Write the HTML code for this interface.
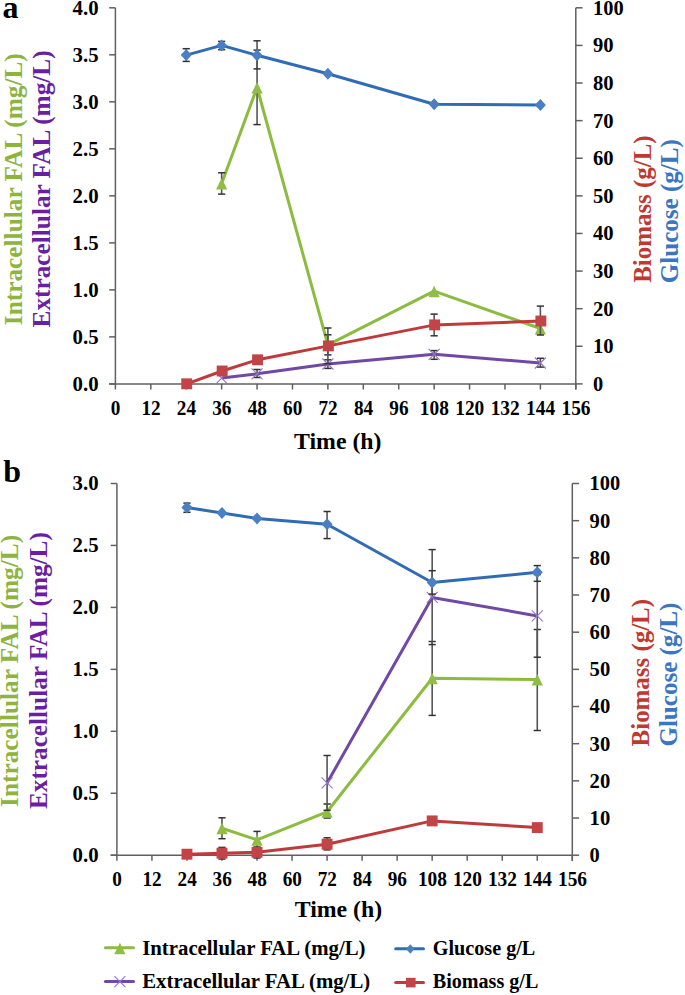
<!DOCTYPE html>
<html><head><meta charset="utf-8"><style>
html,body{margin:0;padding:0;background:#fff;}
body{width:685px;height:995px;overflow:hidden;}
svg{display:block;}
text{font-family:"Liberation Serif",serif;font-weight:bold;}
</style></head><body>
<svg width="685" height="995" viewBox="0 0 685 995">
<line x1="115.4" y1="7.8" x2="115.4" y2="384.4" stroke="#606060" stroke-width="1.5"/>
<line x1="109.2" y1="383.9" x2="575.8" y2="383.9" stroke="#606060" stroke-width="1.5"/>
<line x1="575.8" y1="7.8" x2="575.8" y2="389.4" stroke="#606060" stroke-width="1.5"/>
<line x1="109.2" y1="383.9" x2="115.4" y2="383.9" stroke="#606060" stroke-width="1.5"/>
<text x="98.6" y="390.8" font-size="20" fill="#000" text-anchor="end" textLength="26" lengthAdjust="spacingAndGlyphs">0.0</text>
<line x1="109.2" y1="336.89" x2="115.4" y2="336.89" stroke="#606060" stroke-width="1.5"/>
<text x="98.6" y="343.79" font-size="20" fill="#000" text-anchor="end" textLength="26" lengthAdjust="spacingAndGlyphs">0.5</text>
<line x1="109.2" y1="289.88" x2="115.4" y2="289.88" stroke="#606060" stroke-width="1.5"/>
<text x="98.6" y="296.77" font-size="20" fill="#000" text-anchor="end" textLength="26" lengthAdjust="spacingAndGlyphs">1.0</text>
<line x1="109.2" y1="242.86" x2="115.4" y2="242.86" stroke="#606060" stroke-width="1.5"/>
<text x="98.6" y="249.76" font-size="20" fill="#000" text-anchor="end" textLength="26" lengthAdjust="spacingAndGlyphs">1.5</text>
<line x1="109.2" y1="195.85" x2="115.4" y2="195.85" stroke="#606060" stroke-width="1.5"/>
<text x="98.6" y="202.75" font-size="20" fill="#000" text-anchor="end" textLength="26" lengthAdjust="spacingAndGlyphs">2.0</text>
<line x1="109.2" y1="148.84" x2="115.4" y2="148.84" stroke="#606060" stroke-width="1.5"/>
<text x="98.6" y="155.74" font-size="20" fill="#000" text-anchor="end" textLength="26" lengthAdjust="spacingAndGlyphs">2.5</text>
<line x1="109.2" y1="101.82" x2="115.4" y2="101.82" stroke="#606060" stroke-width="1.5"/>
<text x="98.6" y="108.72" font-size="20" fill="#000" text-anchor="end" textLength="26" lengthAdjust="spacingAndGlyphs">3.0</text>
<line x1="109.2" y1="54.81" x2="115.4" y2="54.81" stroke="#606060" stroke-width="1.5"/>
<text x="98.6" y="61.71" font-size="20" fill="#000" text-anchor="end" textLength="26" lengthAdjust="spacingAndGlyphs">3.5</text>
<line x1="109.2" y1="7.8" x2="115.4" y2="7.8" stroke="#606060" stroke-width="1.5"/>
<text x="98.6" y="14.7" font-size="20" fill="#000" text-anchor="end" textLength="26" lengthAdjust="spacingAndGlyphs">4.0</text>
<line x1="575.8" y1="383.9" x2="582.6" y2="383.9" stroke="#606060" stroke-width="1.5"/>
<text x="593" y="390.8" font-size="20" fill="#000" textLength="10.2" lengthAdjust="spacingAndGlyphs">0</text>
<line x1="575.8" y1="346.29" x2="582.6" y2="346.29" stroke="#606060" stroke-width="1.5"/>
<text x="593" y="353.19" font-size="20" fill="#000" textLength="20.6" lengthAdjust="spacingAndGlyphs">10</text>
<line x1="575.8" y1="308.68" x2="582.6" y2="308.68" stroke="#606060" stroke-width="1.5"/>
<text x="593" y="315.58" font-size="20" fill="#000" textLength="20.6" lengthAdjust="spacingAndGlyphs">20</text>
<line x1="575.8" y1="271.07" x2="582.6" y2="271.07" stroke="#606060" stroke-width="1.5"/>
<text x="593" y="277.97" font-size="20" fill="#000" textLength="20.6" lengthAdjust="spacingAndGlyphs">30</text>
<line x1="575.8" y1="233.46" x2="582.6" y2="233.46" stroke="#606060" stroke-width="1.5"/>
<text x="593" y="240.36" font-size="20" fill="#000" textLength="20.6" lengthAdjust="spacingAndGlyphs">40</text>
<line x1="575.8" y1="195.85" x2="582.6" y2="195.85" stroke="#606060" stroke-width="1.5"/>
<text x="593" y="202.75" font-size="20" fill="#000" textLength="20.6" lengthAdjust="spacingAndGlyphs">50</text>
<line x1="575.8" y1="158.24" x2="582.6" y2="158.24" stroke="#606060" stroke-width="1.5"/>
<text x="593" y="165.14" font-size="20" fill="#000" textLength="20.6" lengthAdjust="spacingAndGlyphs">60</text>
<line x1="575.8" y1="120.63" x2="582.6" y2="120.63" stroke="#606060" stroke-width="1.5"/>
<text x="593" y="127.53" font-size="20" fill="#000" textLength="20.6" lengthAdjust="spacingAndGlyphs">70</text>
<line x1="575.8" y1="83.02" x2="582.6" y2="83.02" stroke="#606060" stroke-width="1.5"/>
<text x="593" y="89.92" font-size="20" fill="#000" textLength="20.6" lengthAdjust="spacingAndGlyphs">80</text>
<line x1="575.8" y1="45.41" x2="582.6" y2="45.41" stroke="#606060" stroke-width="1.5"/>
<text x="593" y="52.31" font-size="20" fill="#000" textLength="20.6" lengthAdjust="spacingAndGlyphs">90</text>
<line x1="575.8" y1="7.8" x2="582.6" y2="7.8" stroke="#606060" stroke-width="1.5"/>
<text x="593" y="14.7" font-size="20" fill="#000" textLength="30.6" lengthAdjust="spacingAndGlyphs">100</text>
<line x1="115.4" y1="383.9" x2="115.4" y2="389.5" stroke="#606060" stroke-width="1.5"/>
<text x="115.6" y="414.7" font-size="20" fill="#000" text-anchor="middle" textLength="9.6" lengthAdjust="spacingAndGlyphs">0</text>
<line x1="150.82" y1="383.9" x2="150.82" y2="389.5" stroke="#606060" stroke-width="1.5"/>
<text x="151.02" y="414.7" font-size="20" fill="#000" text-anchor="middle" textLength="19.2" lengthAdjust="spacingAndGlyphs">12</text>
<line x1="186.23" y1="383.9" x2="186.23" y2="389.5" stroke="#606060" stroke-width="1.5"/>
<text x="186.43" y="414.7" font-size="20" fill="#000" text-anchor="middle" textLength="19.2" lengthAdjust="spacingAndGlyphs">24</text>
<line x1="221.65" y1="383.9" x2="221.65" y2="389.5" stroke="#606060" stroke-width="1.5"/>
<text x="221.85" y="414.7" font-size="20" fill="#000" text-anchor="middle" textLength="19.2" lengthAdjust="spacingAndGlyphs">36</text>
<line x1="257.06" y1="383.9" x2="257.06" y2="389.5" stroke="#606060" stroke-width="1.5"/>
<text x="257.26" y="414.7" font-size="20" fill="#000" text-anchor="middle" textLength="19.2" lengthAdjust="spacingAndGlyphs">48</text>
<line x1="292.48" y1="383.9" x2="292.48" y2="389.5" stroke="#606060" stroke-width="1.5"/>
<text x="292.68" y="414.7" font-size="20" fill="#000" text-anchor="middle" textLength="19.2" lengthAdjust="spacingAndGlyphs">60</text>
<line x1="327.89" y1="383.9" x2="327.89" y2="389.5" stroke="#606060" stroke-width="1.5"/>
<text x="328.09" y="414.7" font-size="20" fill="#000" text-anchor="middle" textLength="19.2" lengthAdjust="spacingAndGlyphs">72</text>
<line x1="363.31" y1="383.9" x2="363.31" y2="389.5" stroke="#606060" stroke-width="1.5"/>
<text x="363.51" y="414.7" font-size="20" fill="#000" text-anchor="middle" textLength="19.2" lengthAdjust="spacingAndGlyphs">84</text>
<line x1="398.72" y1="383.9" x2="398.72" y2="389.5" stroke="#606060" stroke-width="1.5"/>
<text x="398.92" y="414.7" font-size="20" fill="#000" text-anchor="middle" textLength="19.2" lengthAdjust="spacingAndGlyphs">96</text>
<line x1="434.14" y1="383.9" x2="434.14" y2="389.5" stroke="#606060" stroke-width="1.5"/>
<text x="434.34" y="414.7" font-size="20" fill="#000" text-anchor="middle" textLength="29" lengthAdjust="spacingAndGlyphs">108</text>
<line x1="469.55" y1="383.9" x2="469.55" y2="389.5" stroke="#606060" stroke-width="1.5"/>
<text x="469.75" y="414.7" font-size="20" fill="#000" text-anchor="middle" textLength="29" lengthAdjust="spacingAndGlyphs">120</text>
<line x1="504.97" y1="383.9" x2="504.97" y2="389.5" stroke="#606060" stroke-width="1.5"/>
<text x="505.17" y="414.7" font-size="20" fill="#000" text-anchor="middle" textLength="29" lengthAdjust="spacingAndGlyphs">132</text>
<line x1="540.38" y1="383.9" x2="540.38" y2="389.5" stroke="#606060" stroke-width="1.5"/>
<text x="540.58" y="414.7" font-size="20" fill="#000" text-anchor="middle" textLength="29" lengthAdjust="spacingAndGlyphs">144</text>
<line x1="575.8" y1="383.9" x2="575.8" y2="389.5" stroke="#606060" stroke-width="1.5"/>
<text x="576" y="414.7" font-size="20" fill="#000" text-anchor="middle" textLength="29" lengthAdjust="spacingAndGlyphs">156</text>
<text x="294" y="449" font-size="24" fill="#000" textLength="87.5" lengthAdjust="spacingAndGlyphs">Time (h)</text>
<text x="2.5" y="17.6" font-size="32" fill="#000">a</text>
<text x="21.6" y="325.2" font-size="25" fill="#8db43f" textLength="272" lengthAdjust="spacingAndGlyphs" transform="rotate(-90 21.6 325.2)">Intracellular FAL (mg/L)</text>
<text x="50" y="327.4" font-size="25" fill="#6a1fa3" textLength="277" lengthAdjust="spacingAndGlyphs" transform="rotate(-90 50 327.4)">Extracellular FAL (mg/L)</text>
<text x="650.6" y="282.8" font-size="25" fill="#c0392f" textLength="147.4" lengthAdjust="spacingAndGlyphs" transform="rotate(-90 650.6 282.8)">Biomass (g/L)</text>
<text x="678.4" y="283.2" font-size="25" fill="#3a76c2" textLength="144" lengthAdjust="spacingAndGlyphs" transform="rotate(-90 678.4 283.2)">Glucose (g/L)</text>
<line x1="116.9" y1="483.5" x2="116.9" y2="855.7" stroke="#606060" stroke-width="1.5"/>
<line x1="110.7" y1="855.2" x2="572.3" y2="855.2" stroke="#606060" stroke-width="1.5"/>
<line x1="572.3" y1="483.5" x2="572.3" y2="860.7" stroke="#606060" stroke-width="1.5"/>
<line x1="110.7" y1="855.2" x2="116.9" y2="855.2" stroke="#606060" stroke-width="1.5"/>
<text x="98.6" y="862.1" font-size="20" fill="#000" text-anchor="end" textLength="26" lengthAdjust="spacingAndGlyphs">0.0</text>
<line x1="110.7" y1="793.25" x2="116.9" y2="793.25" stroke="#606060" stroke-width="1.5"/>
<text x="98.6" y="800.15" font-size="20" fill="#000" text-anchor="end" textLength="26" lengthAdjust="spacingAndGlyphs">0.5</text>
<line x1="110.7" y1="731.3" x2="116.9" y2="731.3" stroke="#606060" stroke-width="1.5"/>
<text x="98.6" y="738.2" font-size="20" fill="#000" text-anchor="end" textLength="26" lengthAdjust="spacingAndGlyphs">1.0</text>
<line x1="110.7" y1="669.35" x2="116.9" y2="669.35" stroke="#606060" stroke-width="1.5"/>
<text x="98.6" y="676.25" font-size="20" fill="#000" text-anchor="end" textLength="26" lengthAdjust="spacingAndGlyphs">1.5</text>
<line x1="110.7" y1="607.4" x2="116.9" y2="607.4" stroke="#606060" stroke-width="1.5"/>
<text x="98.6" y="614.3" font-size="20" fill="#000" text-anchor="end" textLength="26" lengthAdjust="spacingAndGlyphs">2.0</text>
<line x1="110.7" y1="545.45" x2="116.9" y2="545.45" stroke="#606060" stroke-width="1.5"/>
<text x="98.6" y="552.35" font-size="20" fill="#000" text-anchor="end" textLength="26" lengthAdjust="spacingAndGlyphs">2.5</text>
<line x1="110.7" y1="483.5" x2="116.9" y2="483.5" stroke="#606060" stroke-width="1.5"/>
<text x="98.6" y="490.4" font-size="20" fill="#000" text-anchor="end" textLength="26" lengthAdjust="spacingAndGlyphs">3.0</text>
<line x1="572.3" y1="855.2" x2="579.1" y2="855.2" stroke="#606060" stroke-width="1.5"/>
<text x="589.6" y="862.1" font-size="20" fill="#000" textLength="10.2" lengthAdjust="spacingAndGlyphs">0</text>
<line x1="572.3" y1="818.03" x2="579.1" y2="818.03" stroke="#606060" stroke-width="1.5"/>
<text x="589.6" y="824.93" font-size="20" fill="#000" textLength="20.6" lengthAdjust="spacingAndGlyphs">10</text>
<line x1="572.3" y1="780.86" x2="579.1" y2="780.86" stroke="#606060" stroke-width="1.5"/>
<text x="589.6" y="787.76" font-size="20" fill="#000" textLength="20.6" lengthAdjust="spacingAndGlyphs">20</text>
<line x1="572.3" y1="743.69" x2="579.1" y2="743.69" stroke="#606060" stroke-width="1.5"/>
<text x="589.6" y="750.59" font-size="20" fill="#000" textLength="20.6" lengthAdjust="spacingAndGlyphs">30</text>
<line x1="572.3" y1="706.52" x2="579.1" y2="706.52" stroke="#606060" stroke-width="1.5"/>
<text x="589.6" y="713.42" font-size="20" fill="#000" textLength="20.6" lengthAdjust="spacingAndGlyphs">40</text>
<line x1="572.3" y1="669.35" x2="579.1" y2="669.35" stroke="#606060" stroke-width="1.5"/>
<text x="589.6" y="676.25" font-size="20" fill="#000" textLength="20.6" lengthAdjust="spacingAndGlyphs">50</text>
<line x1="572.3" y1="632.18" x2="579.1" y2="632.18" stroke="#606060" stroke-width="1.5"/>
<text x="589.6" y="639.08" font-size="20" fill="#000" textLength="20.6" lengthAdjust="spacingAndGlyphs">60</text>
<line x1="572.3" y1="595.01" x2="579.1" y2="595.01" stroke="#606060" stroke-width="1.5"/>
<text x="589.6" y="601.91" font-size="20" fill="#000" textLength="20.6" lengthAdjust="spacingAndGlyphs">70</text>
<line x1="572.3" y1="557.84" x2="579.1" y2="557.84" stroke="#606060" stroke-width="1.5"/>
<text x="589.6" y="564.74" font-size="20" fill="#000" textLength="20.6" lengthAdjust="spacingAndGlyphs">80</text>
<line x1="572.3" y1="520.67" x2="579.1" y2="520.67" stroke="#606060" stroke-width="1.5"/>
<text x="589.6" y="527.57" font-size="20" fill="#000" textLength="20.6" lengthAdjust="spacingAndGlyphs">90</text>
<line x1="572.3" y1="483.5" x2="579.1" y2="483.5" stroke="#606060" stroke-width="1.5"/>
<text x="589.6" y="490.4" font-size="20" fill="#000" textLength="30.6" lengthAdjust="spacingAndGlyphs">100</text>
<line x1="116.9" y1="855.2" x2="116.9" y2="860.8" stroke="#606060" stroke-width="1.5"/>
<text x="117.1" y="885.6" font-size="20" fill="#000" text-anchor="middle" textLength="9.6" lengthAdjust="spacingAndGlyphs">0</text>
<line x1="151.93" y1="855.2" x2="151.93" y2="860.8" stroke="#606060" stroke-width="1.5"/>
<text x="152.13" y="885.6" font-size="20" fill="#000" text-anchor="middle" textLength="19.2" lengthAdjust="spacingAndGlyphs">12</text>
<line x1="186.96" y1="855.2" x2="186.96" y2="860.8" stroke="#606060" stroke-width="1.5"/>
<text x="187.16" y="885.6" font-size="20" fill="#000" text-anchor="middle" textLength="19.2" lengthAdjust="spacingAndGlyphs">24</text>
<line x1="221.99" y1="855.2" x2="221.99" y2="860.8" stroke="#606060" stroke-width="1.5"/>
<text x="222.19" y="885.6" font-size="20" fill="#000" text-anchor="middle" textLength="19.2" lengthAdjust="spacingAndGlyphs">36</text>
<line x1="257.02" y1="855.2" x2="257.02" y2="860.8" stroke="#606060" stroke-width="1.5"/>
<text x="257.22" y="885.6" font-size="20" fill="#000" text-anchor="middle" textLength="19.2" lengthAdjust="spacingAndGlyphs">48</text>
<line x1="292.05" y1="855.2" x2="292.05" y2="860.8" stroke="#606060" stroke-width="1.5"/>
<text x="292.25" y="885.6" font-size="20" fill="#000" text-anchor="middle" textLength="19.2" lengthAdjust="spacingAndGlyphs">60</text>
<line x1="327.08" y1="855.2" x2="327.08" y2="860.8" stroke="#606060" stroke-width="1.5"/>
<text x="327.28" y="885.6" font-size="20" fill="#000" text-anchor="middle" textLength="19.2" lengthAdjust="spacingAndGlyphs">72</text>
<line x1="362.12" y1="855.2" x2="362.12" y2="860.8" stroke="#606060" stroke-width="1.5"/>
<text x="362.32" y="885.6" font-size="20" fill="#000" text-anchor="middle" textLength="19.2" lengthAdjust="spacingAndGlyphs">84</text>
<line x1="397.15" y1="855.2" x2="397.15" y2="860.8" stroke="#606060" stroke-width="1.5"/>
<text x="397.35" y="885.6" font-size="20" fill="#000" text-anchor="middle" textLength="19.2" lengthAdjust="spacingAndGlyphs">96</text>
<line x1="432.18" y1="855.2" x2="432.18" y2="860.8" stroke="#606060" stroke-width="1.5"/>
<text x="432.38" y="885.6" font-size="20" fill="#000" text-anchor="middle" textLength="29" lengthAdjust="spacingAndGlyphs">108</text>
<line x1="467.21" y1="855.2" x2="467.21" y2="860.8" stroke="#606060" stroke-width="1.5"/>
<text x="467.41" y="885.6" font-size="20" fill="#000" text-anchor="middle" textLength="29" lengthAdjust="spacingAndGlyphs">120</text>
<line x1="502.24" y1="855.2" x2="502.24" y2="860.8" stroke="#606060" stroke-width="1.5"/>
<text x="502.44" y="885.6" font-size="20" fill="#000" text-anchor="middle" textLength="29" lengthAdjust="spacingAndGlyphs">132</text>
<line x1="537.27" y1="855.2" x2="537.27" y2="860.8" stroke="#606060" stroke-width="1.5"/>
<text x="537.47" y="885.6" font-size="20" fill="#000" text-anchor="middle" textLength="29" lengthAdjust="spacingAndGlyphs">144</text>
<line x1="572.3" y1="855.2" x2="572.3" y2="860.8" stroke="#606060" stroke-width="1.5"/>
<text x="572.5" y="885.6" font-size="20" fill="#000" text-anchor="middle" textLength="29" lengthAdjust="spacingAndGlyphs">156</text>
<text x="294.7" y="917.3" font-size="24" fill="#000" textLength="87.5" lengthAdjust="spacingAndGlyphs">Time (h)</text>
<text x="3.2" y="482.3" font-size="32" fill="#000">b</text>
<text x="18.4" y="806.9" font-size="25" fill="#8db43f" textLength="272" lengthAdjust="spacingAndGlyphs" transform="rotate(-90 18.4 806.9)">Intracellular FAL (mg/L)</text>
<text x="46.9" y="809.1" font-size="25" fill="#6a1fa3" textLength="277" lengthAdjust="spacingAndGlyphs" transform="rotate(-90 46.9 809.1)">Extracellular FAL (mg/L)</text>
<text x="648.9" y="746.4" font-size="25" fill="#c0392f" textLength="147.4" lengthAdjust="spacingAndGlyphs" transform="rotate(-90 648.9 746.4)">Biomass (g/L)</text>
<text x="677.3" y="746.6" font-size="25" fill="#3a76c2" textLength="144" lengthAdjust="spacingAndGlyphs" transform="rotate(-90 677.3 746.6)">Glucose (g/L)</text>
<polyline points="221.65,183.5 257.06,87.5 327.89,344.8 434.14,291.2 540.38,328.5" fill="none" stroke="#8cbc3f" stroke-width="3" stroke-linejoin="round"/>
<line x1="221.65" y1="172.8" x2="221.65" y2="194.1" stroke="#555555" stroke-width="1.6"/>
<line x1="218.05" y1="172.8" x2="225.25" y2="172.8" stroke="#333333" stroke-width="1.5"/>
<line x1="218.05" y1="194.1" x2="225.25" y2="194.1" stroke="#333333" stroke-width="1.5"/>
<line x1="257.06" y1="50.1" x2="257.06" y2="124.6" stroke="#555555" stroke-width="1.6"/>
<line x1="253.46" y1="50.1" x2="260.66" y2="50.1" stroke="#333333" stroke-width="1.5"/>
<line x1="253.46" y1="124.6" x2="260.66" y2="124.6" stroke="#333333" stroke-width="1.5"/>
<line x1="327.89" y1="334.8" x2="327.89" y2="354.9" stroke="#555555" stroke-width="1.6"/>
<line x1="324.29" y1="334.8" x2="331.49" y2="334.8" stroke="#333333" stroke-width="1.5"/>
<line x1="324.29" y1="354.9" x2="331.49" y2="354.9" stroke="#333333" stroke-width="1.5"/>
<path d="M221.65 178L227.25 189.5L216.05 189.5Z" fill="#8fbd45"/>
<path d="M257.06 82L262.66 93.5L251.46 93.5Z" fill="#8fbd45"/>
<path d="M327.89 339.3L333.49 350.8L322.29 350.8Z" fill="#8fbd45"/>
<path d="M434.14 285.7L439.74 297.2L428.54 297.2Z" fill="#8fbd45"/>
<path d="M540.38 323L545.98 334.5L534.78 334.5Z" fill="#8fbd45"/>
<polyline points="221.65,378.1 257.06,373.8 327.89,364 434.14,354.3 540.38,363" fill="none" stroke="#7148a6" stroke-width="3" stroke-linejoin="round"/>
<line x1="257.06" y1="369.5" x2="257.06" y2="377.5" stroke="#555555" stroke-width="1.6"/>
<line x1="253.46" y1="369.5" x2="260.66" y2="369.5" stroke="#333333" stroke-width="1.5"/>
<line x1="253.46" y1="377.5" x2="260.66" y2="377.5" stroke="#333333" stroke-width="1.5"/>
<line x1="327.89" y1="359.8" x2="327.89" y2="368.4" stroke="#555555" stroke-width="1.6"/>
<line x1="324.29" y1="359.8" x2="331.49" y2="359.8" stroke="#333333" stroke-width="1.5"/>
<line x1="324.29" y1="368.4" x2="331.49" y2="368.4" stroke="#333333" stroke-width="1.5"/>
<line x1="434.14" y1="350.6" x2="434.14" y2="359.3" stroke="#555555" stroke-width="1.6"/>
<line x1="430.54" y1="350.6" x2="437.74" y2="350.6" stroke="#333333" stroke-width="1.5"/>
<line x1="430.54" y1="359.3" x2="437.74" y2="359.3" stroke="#333333" stroke-width="1.5"/>
<line x1="540.38" y1="358.3" x2="540.38" y2="367.1" stroke="#555555" stroke-width="1.6"/>
<line x1="536.78" y1="358.3" x2="543.98" y2="358.3" stroke="#333333" stroke-width="1.5"/>
<line x1="536.78" y1="367.1" x2="543.98" y2="367.1" stroke="#333333" stroke-width="1.5"/>
<path d="M216.15 372.6L227.15 383.6M216.15 383.6L227.15 372.6" stroke="#9574cb" stroke-width="1.1"/>
<path d="M251.56 368.3L262.56 379.3M251.56 379.3L262.56 368.3" stroke="#9574cb" stroke-width="1.1"/>
<path d="M322.39 358.5L333.39 369.5M322.39 369.5L333.39 358.5" stroke="#9574cb" stroke-width="1.1"/>
<path d="M428.64 348.8L439.64 359.8M428.64 359.8L439.64 348.8" stroke="#9574cb" stroke-width="1.1"/>
<path d="M534.88 357.5L545.88 368.5M534.88 368.5L545.88 357.5" stroke="#9574cb" stroke-width="1.1"/>
<polyline points="186.23,55.1 221.65,45.4 257.06,55.3 327.89,73.7 434.14,104.2 540.38,105" fill="none" stroke="#306cb4" stroke-width="3" stroke-linejoin="round"/>
<line x1="186.23" y1="48.7" x2="186.23" y2="61.4" stroke="#555555" stroke-width="1.6"/>
<line x1="182.63" y1="48.7" x2="189.83" y2="48.7" stroke="#333333" stroke-width="1.5"/>
<line x1="182.63" y1="61.4" x2="189.83" y2="61.4" stroke="#333333" stroke-width="1.5"/>
<line x1="221.65" y1="41.4" x2="221.65" y2="49.7" stroke="#555555" stroke-width="1.6"/>
<line x1="218.05" y1="41.4" x2="225.25" y2="41.4" stroke="#333333" stroke-width="1.5"/>
<line x1="218.05" y1="49.7" x2="225.25" y2="49.7" stroke="#333333" stroke-width="1.5"/>
<line x1="257.06" y1="40.8" x2="257.06" y2="68.9" stroke="#555555" stroke-width="1.6"/>
<line x1="253.46" y1="40.8" x2="260.66" y2="40.8" stroke="#333333" stroke-width="1.5"/>
<line x1="253.46" y1="68.9" x2="260.66" y2="68.9" stroke="#333333" stroke-width="1.5"/>
<path d="M186.23 49.1L191.73 55.1L186.23 61.1L180.73 55.1Z" fill="#4a7fc3"/>
<path d="M221.65 39.4L227.15 45.4L221.65 51.4L216.15 45.4Z" fill="#4a7fc3"/>
<path d="M257.06 49.3L262.56 55.3L257.06 61.3L251.56 55.3Z" fill="#4a7fc3"/>
<path d="M327.89 67.7L333.39 73.7L327.89 79.7L322.39 73.7Z" fill="#4a7fc3"/>
<path d="M434.14 98.2L439.64 104.2L434.14 110.2L428.64 104.2Z" fill="#4a7fc3"/>
<path d="M540.38 99L545.88 105L540.38 111L534.88 105Z" fill="#4a7fc3"/>
<polyline points="186.73,383.8 222.15,371 257.56,359.8 328.39,345.9 434.64,324.9 540.88,321" fill="none" stroke="#c0393b" stroke-width="3" stroke-linejoin="round"/>
<line x1="327.89" y1="328" x2="327.89" y2="363.8" stroke="#555555" stroke-width="1.6"/>
<line x1="324.29" y1="328" x2="331.49" y2="328" stroke="#333333" stroke-width="1.5"/>
<line x1="324.29" y1="363.8" x2="331.49" y2="363.8" stroke="#333333" stroke-width="1.5"/>
<line x1="434.14" y1="314.1" x2="434.14" y2="335.8" stroke="#555555" stroke-width="1.6"/>
<line x1="430.54" y1="314.1" x2="437.74" y2="314.1" stroke="#333333" stroke-width="1.5"/>
<line x1="430.54" y1="335.8" x2="437.74" y2="335.8" stroke="#333333" stroke-width="1.5"/>
<line x1="540.38" y1="306.1" x2="540.38" y2="335" stroke="#555555" stroke-width="1.6"/>
<line x1="536.78" y1="306.1" x2="543.98" y2="306.1" stroke="#333333" stroke-width="1.5"/>
<line x1="536.78" y1="335" x2="543.98" y2="335" stroke="#333333" stroke-width="1.5"/>
<rect x="181.28" y="378.35" width="10.9" height="10.9" fill="#c24447"/>
<rect x="216.7" y="365.55" width="10.9" height="10.9" fill="#c24447"/>
<rect x="252.11" y="354.35" width="10.9" height="10.9" fill="#c24447"/>
<rect x="322.94" y="340.45" width="10.9" height="10.9" fill="#c24447"/>
<rect x="429.19" y="319.45" width="10.9" height="10.9" fill="#c24447"/>
<rect x="535.43" y="315.55" width="10.9" height="10.9" fill="#c24447"/>
<polyline points="221.99,828.3 257.02,839.8 327.08,811.8 432.18,678.3 537.27,679.5" fill="none" stroke="#8cbc3f" stroke-width="3" stroke-linejoin="round"/>
<line x1="221.99" y1="817.8" x2="221.99" y2="838.7" stroke="#555555" stroke-width="1.6"/>
<line x1="218.39" y1="817.8" x2="225.59" y2="817.8" stroke="#333333" stroke-width="1.5"/>
<line x1="218.39" y1="838.7" x2="225.59" y2="838.7" stroke="#333333" stroke-width="1.5"/>
<line x1="257.02" y1="831.4" x2="257.02" y2="848.2" stroke="#555555" stroke-width="1.6"/>
<line x1="253.42" y1="831.4" x2="260.62" y2="831.4" stroke="#333333" stroke-width="1.5"/>
<line x1="253.42" y1="848.2" x2="260.62" y2="848.2" stroke="#333333" stroke-width="1.5"/>
<line x1="327.08" y1="804" x2="327.08" y2="818" stroke="#555555" stroke-width="1.6"/>
<line x1="323.48" y1="804" x2="330.68" y2="804" stroke="#333333" stroke-width="1.5"/>
<line x1="323.48" y1="818" x2="330.68" y2="818" stroke="#333333" stroke-width="1.5"/>
<line x1="432.18" y1="641.5" x2="432.18" y2="715.4" stroke="#555555" stroke-width="1.6"/>
<line x1="428.58" y1="641.5" x2="435.78" y2="641.5" stroke="#333333" stroke-width="1.5"/>
<line x1="428.58" y1="715.4" x2="435.78" y2="715.4" stroke="#333333" stroke-width="1.5"/>
<line x1="537.27" y1="629.5" x2="537.27" y2="730.5" stroke="#555555" stroke-width="1.6"/>
<line x1="533.67" y1="629.5" x2="540.87" y2="629.5" stroke="#333333" stroke-width="1.5"/>
<line x1="533.67" y1="730.5" x2="540.87" y2="730.5" stroke="#333333" stroke-width="1.5"/>
<path d="M221.99 822.8L227.59 834.3L216.39 834.3Z" fill="#8fbd45"/>
<path d="M257.02 834.3L262.62 845.8L251.42 845.8Z" fill="#8fbd45"/>
<path d="M327.08 806.3L332.68 817.8L321.48 817.8Z" fill="#8fbd45"/>
<path d="M432.18 672.8L437.78 684.3L426.58 684.3Z" fill="#8fbd45"/>
<path d="M537.27 674L542.87 685.5L531.67 685.5Z" fill="#8fbd45"/>
<polyline points="327.08,782.9 432.18,597.4 537.27,615.9" fill="none" stroke="#7148a6" stroke-width="3" stroke-linejoin="round"/>
<line x1="327.08" y1="755.5" x2="327.08" y2="810.3" stroke="#555555" stroke-width="1.6"/>
<line x1="323.48" y1="755.5" x2="330.68" y2="755.5" stroke="#333333" stroke-width="1.5"/>
<line x1="323.48" y1="810.3" x2="330.68" y2="810.3" stroke="#333333" stroke-width="1.5"/>
<line x1="432.18" y1="549.6" x2="432.18" y2="644.6" stroke="#555555" stroke-width="1.6"/>
<line x1="428.58" y1="549.6" x2="435.78" y2="549.6" stroke="#333333" stroke-width="1.5"/>
<line x1="428.58" y1="644.6" x2="435.78" y2="644.6" stroke="#333333" stroke-width="1.5"/>
<line x1="537.27" y1="574.6" x2="537.27" y2="657.2" stroke="#555555" stroke-width="1.6"/>
<line x1="533.67" y1="574.6" x2="540.87" y2="574.6" stroke="#333333" stroke-width="1.5"/>
<line x1="533.67" y1="657.2" x2="540.87" y2="657.2" stroke="#333333" stroke-width="1.5"/>
<path d="M321.58 777.4L332.58 788.4M321.58 788.4L332.58 777.4" stroke="#9574cb" stroke-width="1.1"/>
<path d="M426.68 591.9L437.68 602.9M426.68 602.9L437.68 591.9" stroke="#9574cb" stroke-width="1.1"/>
<path d="M531.77 610.4L542.77 621.4M531.77 621.4L542.77 610.4" stroke="#9574cb" stroke-width="1.1"/>
<polyline points="186.96,507.6 221.99,512.9 257.02,518.4 327.08,524.2 432.18,582.5 537.27,572.3" fill="none" stroke="#306cb4" stroke-width="3" stroke-linejoin="round"/>
<line x1="186.96" y1="503.1" x2="186.96" y2="512.3" stroke="#555555" stroke-width="1.6"/>
<line x1="183.36" y1="503.1" x2="190.56" y2="503.1" stroke="#333333" stroke-width="1.5"/>
<line x1="183.36" y1="512.3" x2="190.56" y2="512.3" stroke="#333333" stroke-width="1.5"/>
<line x1="327.08" y1="511.5" x2="327.08" y2="538.6" stroke="#555555" stroke-width="1.6"/>
<line x1="323.48" y1="511.5" x2="330.68" y2="511.5" stroke="#333333" stroke-width="1.5"/>
<line x1="323.48" y1="538.6" x2="330.68" y2="538.6" stroke="#333333" stroke-width="1.5"/>
<line x1="432.18" y1="570.7" x2="432.18" y2="594.1" stroke="#555555" stroke-width="1.6"/>
<line x1="428.58" y1="570.7" x2="435.78" y2="570.7" stroke="#333333" stroke-width="1.5"/>
<line x1="428.58" y1="594.1" x2="435.78" y2="594.1" stroke="#333333" stroke-width="1.5"/>
<line x1="537.27" y1="565.6" x2="537.27" y2="581.3" stroke="#555555" stroke-width="1.6"/>
<line x1="533.67" y1="565.6" x2="540.87" y2="565.6" stroke="#333333" stroke-width="1.5"/>
<line x1="533.67" y1="581.3" x2="540.87" y2="581.3" stroke="#333333" stroke-width="1.5"/>
<path d="M186.96 501.6L192.46 507.6L186.96 513.6L181.46 507.6Z" fill="#4a7fc3"/>
<path d="M221.99 506.9L227.49 512.9L221.99 518.9L216.49 512.9Z" fill="#4a7fc3"/>
<path d="M257.02 512.4L262.52 518.4L257.02 524.4L251.52 518.4Z" fill="#4a7fc3"/>
<path d="M327.08 518.2L332.58 524.2L327.08 530.2L321.58 524.2Z" fill="#4a7fc3"/>
<path d="M432.18 576.5L437.68 582.5L432.18 588.5L426.68 582.5Z" fill="#4a7fc3"/>
<path d="M537.27 566.3L542.77 572.3L537.27 578.3L531.77 572.3Z" fill="#4a7fc3"/>
<polyline points="186.96,854.2 221.99,853.2 257.02,852.3 327.08,844.2 432.18,820.9 537.27,827.6" fill="none" stroke="#c0393b" stroke-width="3" stroke-linejoin="round"/>
<line x1="221.99" y1="847.4" x2="221.99" y2="859" stroke="#555555" stroke-width="1.6"/>
<line x1="218.39" y1="847.4" x2="225.59" y2="847.4" stroke="#333333" stroke-width="1.5"/>
<line x1="218.39" y1="859" x2="225.59" y2="859" stroke="#333333" stroke-width="1.5"/>
<line x1="257.02" y1="847" x2="257.02" y2="858" stroke="#555555" stroke-width="1.6"/>
<line x1="253.42" y1="847" x2="260.62" y2="847" stroke="#333333" stroke-width="1.5"/>
<line x1="253.42" y1="858" x2="260.62" y2="858" stroke="#333333" stroke-width="1.5"/>
<line x1="327.08" y1="837.8" x2="327.08" y2="849.9" stroke="#555555" stroke-width="1.6"/>
<line x1="323.48" y1="837.8" x2="330.68" y2="837.8" stroke="#333333" stroke-width="1.5"/>
<line x1="323.48" y1="849.9" x2="330.68" y2="849.9" stroke="#333333" stroke-width="1.5"/>
<rect x="181.51" y="848.75" width="10.9" height="10.9" fill="#c24447"/>
<rect x="216.54" y="847.75" width="10.9" height="10.9" fill="#c24447"/>
<rect x="251.57" y="846.85" width="10.9" height="10.9" fill="#c24447"/>
<rect x="321.63" y="838.75" width="10.9" height="10.9" fill="#c24447"/>
<rect x="426.73" y="815.45" width="10.9" height="10.9" fill="#c24447"/>
<rect x="531.82" y="822.15" width="10.9" height="10.9" fill="#c24447"/>
<line x1="105.4" y1="947.8" x2="133.5" y2="947.8" stroke="#8cbc3f" stroke-width="3" stroke-linecap="round"/>
<path d="M119.9 942.7L125.5 954.2L114.3 954.2Z" fill="#8fbd45"/>
<text x="142.2" y="955.2" font-size="20" fill="#000" textLength="223.3" lengthAdjust="spacingAndGlyphs">Intracellular FAL (mg/L)</text>
<line x1="105.4" y1="981.6" x2="133.5" y2="981.6" stroke="#7148a6" stroke-width="3" stroke-linecap="round"/>
<path d="M114.4 976.1L125.4 987.1M114.4 987.1L125.4 976.1" stroke="#9574cb" stroke-width="1.1"/>
<text x="142.2" y="988" font-size="20" fill="#000" textLength="228" lengthAdjust="spacingAndGlyphs">Extracellular FAL (mg/L)</text>
<line x1="395.7" y1="948.7" x2="423.5" y2="948.7" stroke="#306cb4" stroke-width="3" stroke-linecap="round"/>
<path d="M410.3 944.15L414.55 948.9L410.3 953.65L406.05 948.9Z" fill="#4a7fc3"/>
<text x="432.8" y="954.6" font-size="20" fill="#000" textLength="102.5" lengthAdjust="spacingAndGlyphs">Glucose g/L</text>
<line x1="395.7" y1="982.6" x2="423.5" y2="982.6" stroke="#c0393b" stroke-width="3" stroke-linecap="round"/>
<rect x="406" y="977.8" width="9.6" height="9.6" fill="#c24447"/>
<text x="432.8" y="987.9" font-size="20" fill="#000" textLength="105.5" lengthAdjust="spacingAndGlyphs">Biomass g/L</text>
</svg>
</body></html>
